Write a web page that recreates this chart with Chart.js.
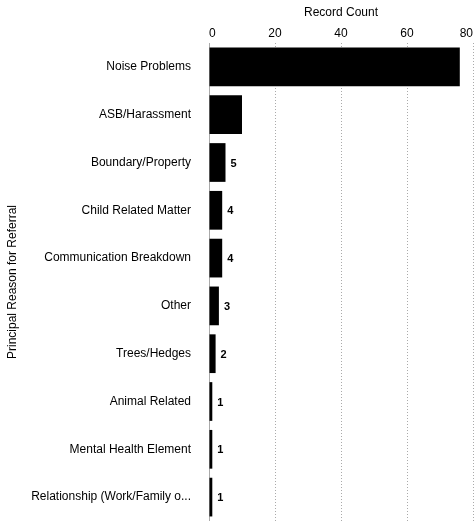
<!DOCTYPE html>
<html>
<head>
<meta charset="utf-8">
<script src="https://cdn.jsdelivr.net/npm/chart.js@4/dist/chart.umd.min.js"></script>
<style>
  html, body { margin: 0; padding: 0; background: #fff; overflow: hidden; }
  canvas { display: block; }
</style>
</head>
<body>
<canvas id="chartCanvas" width="475" height="521"></canvas>
<script>
const categories = [
    'Noise Problems',
    'ASB/Harassment',
    'Boundary/Property',
    'Child Related Matter',
    'Communication Breakdown',
    'Other',
    'Trees/Hedges',
    'Animal Related',
    'Mental Health Element',
    'Relationship (Work/Family o...'
];
const recordCounts = [76, 10, 5, 4, 4, 3, 2, 1, 1, 1];
const xTicks = [0, 20, 40, 60, 80];

const FONT = '"Liberation Sans", Arial, sans-serif';

// small bars get their count written to the right, big ones carry it inside (black on black)
const barLabels = {
    id: 'barLabels',
    afterDatasetsDraw(chart) {
        const ctx = chart.ctx;
        const meta = chart.getDatasetMeta(0);
        ctx.save();
        ctx.font = 'bold 11px ' + FONT;
        ctx.fillStyle = '#000';
        ctx.textBaseline = 'middle';
        ctx.textAlign = 'left';
        meta.data.forEach((bar, i) => {
            const v = recordCounts[i];
            if (v >= 10) return;
            ctx.fillText(String(v), bar.x + 5, bar.y + 1);
        });
        ctx.restore();
    }
};

const ctx = document.getElementById('chartCanvas').getContext('2d');
new Chart(ctx, {
    type: 'bar',
    data: {
        labels: categories,
        datasets: [{
            label: 'Record Count',
            data: recordCounts,
            backgroundColor: '#000',
            borderWidth: 0,
            barPercentage: 0.81,
            categoryPercentage: 1.0
        }]
    },
    options: {
        indexAxis: 'y',
        responsive: false,
        animation: false,
        layout: { padding: { left: 0, right: 2, top: 0, bottom: 0 } },
        plugins: {
            legend: { display: false },
            tooltip: { enabled: false }
        },
        scales: {
            x: {
                position: 'top',
                min: 0,
                max: 80,
                afterBuildTicks: axis => { axis.ticks = xTicks.map(v => ({ value: v })); },
                afterFit: axis => {
                    axis.height = 43;
                    axis.paddingLeft = 0;
                    axis.paddingRight = 0;
                },
                ticks: {
                    color: '#000',
                    font: { family: FONT, size: 12 },
                    padding: 2,
                    align: 'inner'
                },
                grid: {
                    color: '#aaa',
                    lineWidth: 1,
                    drawTicks: false
                },
                border: { display: false, dash: [1, 2] },
                title: {
                    display: true,
                    text: 'Record Count',
                    color: '#000',
                    font: { family: FONT, size: 12 },
                    padding: { top: 5, bottom: 4 }
                }
            },
            y: {
                afterFit: axis => {
                    axis.width = 209;
                    axis.paddingTop = 0;
                    axis.paddingBottom = 0;
                },
                ticks: {
                    color: '#000',
                    font: { family: FONT, size: 12 },
                    padding: 10
                },
                grid: { display: false },
                border: { display: true, color: '#aaa', dash: [1, 2] },
                title: {
                    display: true,
                    text: 'Principal Reason for Referral',
                    color: '#000',
                    font: { family: FONT, size: 12 },
                    padding: { top: 5, bottom: 0 }
                }
            }
        }
    },
    plugins: [barLabels]
});
</script>
</body>
</html>
